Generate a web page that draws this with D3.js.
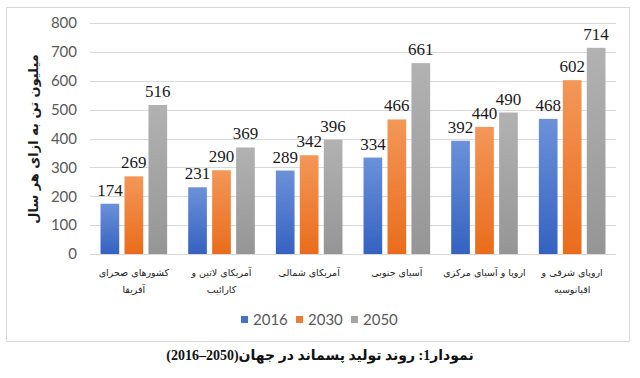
<!DOCTYPE html>
<html>
<head>
<meta charset="utf-8">
<script src="https://cdn.jsdelivr.net/npm/d3@7"></script>
<style>
  body { margin: 0; background: #fff; }
</style>
</head>
<body>
<script>
// data
var categories = [
  ["کشورهای صحرای", "آفریقا"],
  ["آمریکای  لاتین و", "کارائیب"],
  ["آمریکای  شمالی"],
  ["آسیای جنوبی"],
  ["اروپا و آسیای مرکزی"],
  ["اروپای  شرقی و", "اقیانوسیه"]
];
var years = ["2016", "2030", "2050"];
var v2016 = [174, 231, 289, 334, 392, 468];
var v2030 = [269, 290, 342, 466, 440, 602];
var v2050 = [516, 369, 396, 661, 490, 714];
var yTicks = [0, 100, 200, 300, 400, 500, 600, 700, 800];
var yTitle = "میلیون تن به ازای هر سال";
var caption = "نمودار1: روند تولید پسماند در جهان(2050–2016)";

var series = [v2016, v2030, v2050];
var colors = [["#6c91da", "#3562c1"], ["#f39758", "#ea6c1b"], ["#b2b2b2", "#959595"]];
var legendColors = ["#4472c4", "#ed7d31", "#a5a5a5"];

var W = 640, H = 378;
var svg = d3.select("body").append("svg").attr("width", W).attr("height", H);

// gradients for the bars
var defs = svg.append("defs");
colors.forEach(function(c, i) {
  var g = defs.append("linearGradient").attr("id", "grad" + i)
    .attr("x1", 0).attr("y1", 0).attr("x2", 0).attr("y2", 1);
  g.append("stop").attr("offset", "0%").attr("stop-color", c[0]);
  g.append("stop").attr("offset", "100%").attr("stop-color", c[1]);
});

// chart border
svg.append("rect").attr("x", 6.5).attr("y", 7.5).attr("width", 623).attr("height", 334)
  .attr("fill", "none").attr("stroke", "#d9d9d9");

var idx = d3.range(categories.length);
var x0 = d3.scaleBand().domain(idx).range([90, 616]).paddingInner(0.24).paddingOuter(0.12);
var x1 = d3.scaleBand().domain(d3.range(years.length)).range([0, x0.bandwidth()]).paddingInner(0.22);
var y = d3.scaleLinear().domain([0, 800]).range([254, 23]);

// grid lines
svg.append("g").selectAll("line").data(yTicks).enter().append("line")
  .attr("x1", 90).attr("x2", 616)
  .attr("y1", function(d) { return Math.round(y(d)) + 0.5; })
  .attr("y2", function(d) { return Math.round(y(d)) + 0.5; })
  .attr("stroke", "#d9d9d9").attr("stroke-width", 1);

// y axis labels
var yAxis = d3.axisLeft(y).tickValues(yTicks).tickSize(0).tickPadding(0);
var ya = svg.append("g").attr("transform", "translate(77,0)").call(yAxis);
ya.select(".domain").remove();
ya.selectAll("text").attr("font-family", "Lato, 'Open Sans', sans-serif")
  .attr("font-size", 15).attr("fill", "#595959");

// bars
var groups = svg.append("g").selectAll("g").data(idx).enter().append("g")
  .attr("transform", function(i) { return "translate(" + x0(i) + ",0)"; });

groups.selectAll("rect").data(function(i) { return series.map(function(s, k) { return {k: k, v: s[i]}; }); })
  .enter().append("rect")
  .attr("x", function(d) { return x1(d.k); })
  .attr("width", x1.bandwidth())
  .attr("y", function(d) { return y(d.v); })
  .attr("height", function(d) { return y(0) - y(d.v); })
  .attr("fill", function(d) { return "url(#grad" + d.k + ")"; });

groups.selectAll("text.val").data(function(i) { return series.map(function(s, k) { return {k: k, v: s[i]}; }); })
  .enter().append("text").attr("class", "val")
  .attr("x", function(d) { return x1(d.k) + x1.bandwidth() / 2; })
  .attr("y", function(d) { return y(d.v) - 8; })
  .attr("text-anchor", "middle")
  .style("font-family", "'Times New Roman', 'Liberation Serif', serif")
  .style("font-size", "17px")
  .attr("fill", "#1a1a1a")
  .text(function(d) { return d.v; });

// category labels
groups.each(function(i) {
  var g = d3.select(this);
  categories[i].forEach(function(line, j) {
    g.append("text")
      .attr("x", x0.bandwidth() / 2).attr("y", 276 + j * 17)
      .attr("text-anchor", "middle").attr("direction", "rtl")
      .attr("font-family", "'DejaVu Sans', sans-serif").attr("font-size", 9.5)
      .attr("fill", "#222")
      .text(line);
  });
});

// y axis title
svg.append("text")
  .attr("transform", "translate(38,139) rotate(-90)")
  .attr("text-anchor", "middle").attr("direction", "rtl")
  .attr("font-family", "'DejaVu Sans', sans-serif").attr("font-weight", "bold")
  .attr("font-size", 13).attr("fill", "#1a1a1a")
  .text(yTitle);

// legend
var legendX = [241, 296, 351];
var lg = svg.append("g").selectAll("g").data(years).enter().append("g")
  .attr("transform", function(d, i) { return "translate(" + legendX[i] + ",0)"; });
lg.append("rect").attr("x", 0).attr("y", 316).attr("width", 7).attr("height", 7)
  .attr("fill", function(d, i) { return legendColors[i]; });
lg.append("text").attr("x", 12).attr("y", 325)
  .attr("font-family", "Lato, 'Open Sans', sans-serif").attr("font-size", 15)
  .attr("fill", "#595959").text(function(d) { return d; });

// caption below the chart
svg.append("text")
  .attr("x", 320).attr("y", 360)
  .attr("text-anchor", "middle").attr("direction", "rtl")
  .attr("font-family", "'Liberation Serif', 'DejaVu Sans', serif").attr("font-weight", "bold")
  .attr("font-size", 14).attr("fill", "#111")
  .text(caption);
</script>
</body>
</html>
